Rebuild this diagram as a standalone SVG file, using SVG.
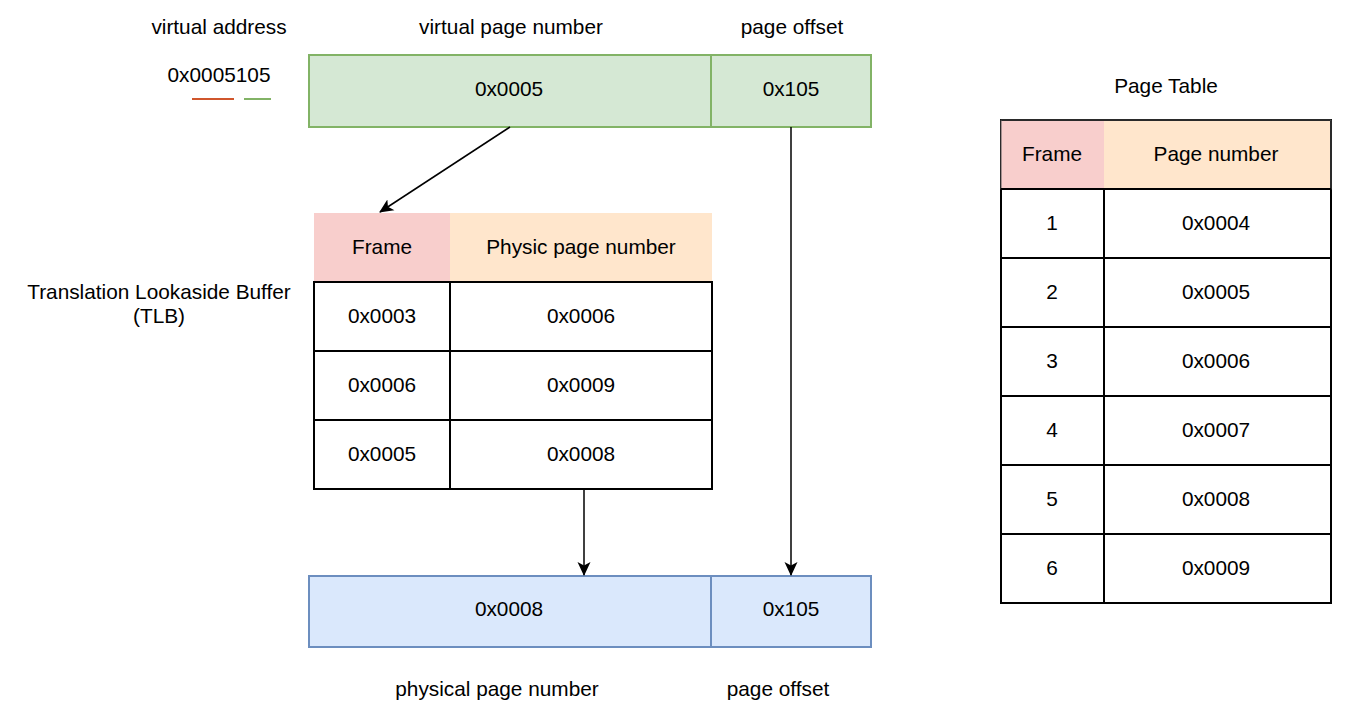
<svg xmlns="http://www.w3.org/2000/svg" width="1366" height="703" viewBox="0 0 1366 703">
<defs>
<style>
text{font-family:"Liberation Sans",Arial,sans-serif;font-size:20.8px;fill:#000;text-anchor:middle;dominant-baseline:central;transform:translateY(-1px)}
.g{fill:#d5e8d4;stroke:#82b366;stroke-width:2}
.b{fill:#dae8fc;stroke:#6c8ebf;stroke-width:2}
.hr{fill:#f8cecc;stroke:none}
.ho{fill:#ffe6cc;stroke:none}
.c{fill:#fff;stroke:#000;stroke-width:2}
.e{fill:none;stroke:#000;stroke-width:1.5}
</style>
<marker id="ah" viewBox="0 0 14 14" refX="13" refY="7" markerWidth="14" markerHeight="14" markerUnits="userSpaceOnUse" orient="auto">
<path d="M0,0.5 L14,7 L0,13.5 L3.5,7 Z" fill="#000"/>
</marker>
</defs>
<rect width="1366" height="703" fill="#fff"/>

<g id="labels">
<text x="219" y="27">virtual address</text>
<text x="219" y="75">0x0005105</text>
<line x1="192" y1="99" x2="234" y2="99" stroke="#d0562c" stroke-width="2"/>
<line x1="244" y1="99" x2="271" y2="99" stroke="#82b366" stroke-width="2"/>
<text x="511" y="27">virtual page number</text>
<text x="792" y="27">page offset</text>
<text x="159" y="292">Translation Lookaside Buffer</text>
<text x="159" y="316">(TLB)</text>
<text x="497" y="689">physical page number</text>
<text x="778" y="689">page offset</text>
<text x="1166" y="86">Page Table</text>
</g>

<g id="virtual-address">
<rect class="g" x="309" y="55" width="402" height="72"/>
<text x="509" y="89">0x0005</text>
<rect class="g" x="711" y="55" width="160" height="72"/>
<text x="791" y="89">0x105</text>
</g>

<g id="physical-address">
<rect class="b" x="309" y="576" width="402" height="71"/>
<text x="509" y="609">0x0008</text>
<rect class="b" x="711" y="576" width="160" height="71"/>
<text x="791" y="609">0x105</text>
</g>

<g id="tlb">
<rect class="hr" x="314" y="213" width="136" height="69" stroke="#d7b3b1" stroke-width="1"/>
<rect class="ho" x="450" y="213" width="262" height="69" stroke="#e6ceb7" stroke-width="1"/>
<text x="382" y="247">Frame</text>
<text x="581" y="247">Physic page number</text>
<rect class="c" x="314" y="282" width="136" height="69"/>
<rect class="c" x="450" y="282" width="262" height="69"/>
<rect class="c" x="314" y="351" width="136" height="69"/>
<rect class="c" x="450" y="351" width="262" height="69"/>
<rect class="c" x="314" y="420" width="136" height="69"/>
<rect class="c" x="450" y="420" width="262" height="69"/>
<text x="382" y="316">0x0003</text>
<text x="581" y="316">0x0006</text>
<text x="382" y="385">0x0006</text>
<text x="581" y="385">0x0009</text>
<text x="382" y="454">0x0005</text>
<text x="581" y="454">0x0008</text>
</g>

<g id="page-table">
<rect x="1001" y="120" width="330" height="483" fill="#fff" stroke="#000" stroke-width="2"/>
<rect class="hr" x="1001" y="121" width="103" height="68"/>
<rect class="ho" x="1104" y="121" width="226" height="68"/>
<rect x="1001" y="120" width="330" height="69" fill="none" stroke="#555" stroke-width="1"/>
<line x1="1104" y1="189" x2="1104" y2="603" stroke="#000" stroke-width="2"/>
<line x1="1001" y1="189" x2="1331" y2="189" stroke="#000" stroke-width="2"/>
<line x1="1001" y1="258" x2="1331" y2="258" stroke="#000" stroke-width="2"/>
<line x1="1001" y1="327" x2="1331" y2="327" stroke="#000" stroke-width="2"/>
<line x1="1001" y1="396" x2="1331" y2="396" stroke="#000" stroke-width="2"/>
<line x1="1001" y1="465" x2="1331" y2="465" stroke="#000" stroke-width="2"/>
<line x1="1001" y1="534" x2="1331" y2="534" stroke="#000" stroke-width="2"/>
<text x="1052" y="154">Frame</text>
<text x="1216" y="154">Page number</text>
<text x="1052" y="223">1</text>
<text x="1216" y="223">0x0004</text>
<text x="1052" y="292">2</text>
<text x="1216" y="292">0x0005</text>
<text x="1052" y="361">3</text>
<text x="1216" y="361">0x0006</text>
<text x="1052" y="430">4</text>
<text x="1216" y="430">0x0007</text>
<text x="1052" y="499">5</text>
<text x="1216" y="499">0x0008</text>
<text x="1052" y="568">6</text>
<text x="1216" y="568">0x0009</text>
</g>

<g id="connectors">
<line class="e" x1="510" y1="127" x2="380" y2="212" marker-end="url(#ah)"/>
<line class="e" x1="791" y1="127" x2="791" y2="575" marker-end="url(#ah)"/>
<line class="e" x1="584" y1="489" x2="584" y2="575" marker-end="url(#ah)"/>
</g>
</svg>
